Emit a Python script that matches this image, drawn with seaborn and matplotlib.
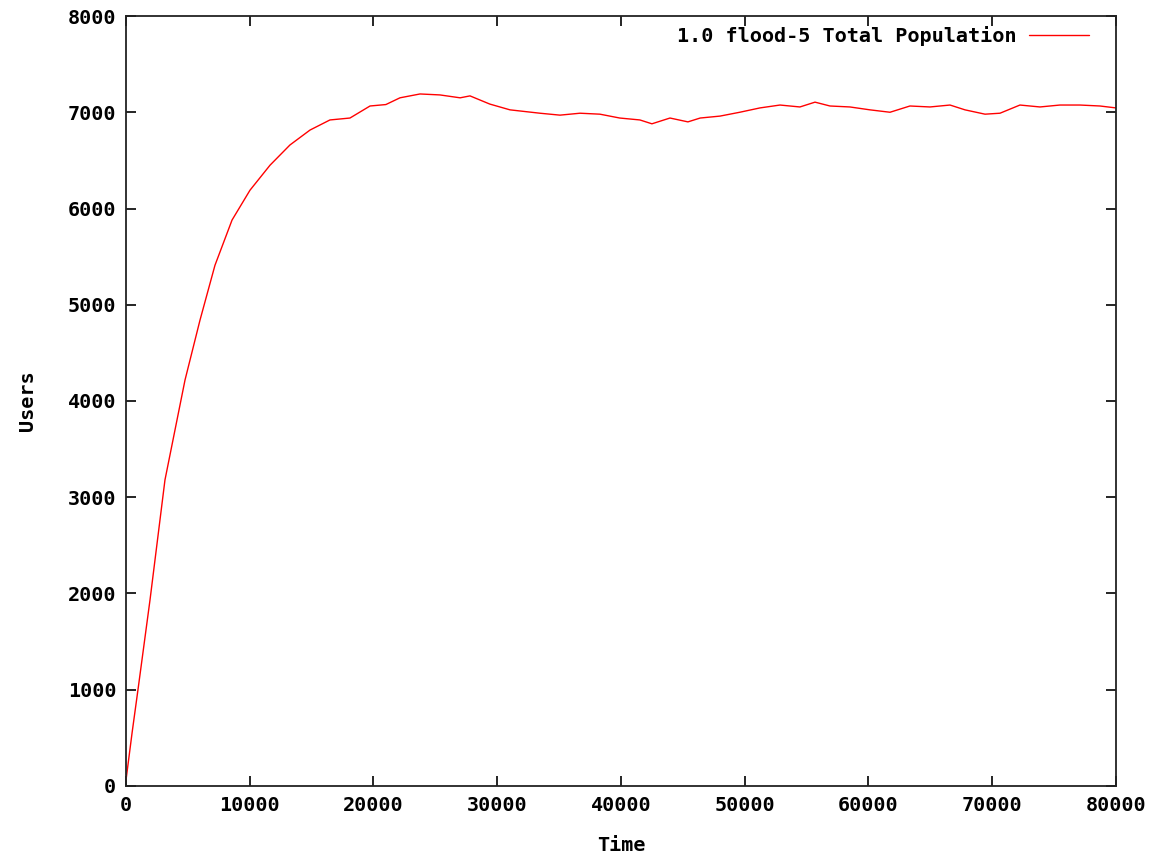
import pandas as pd
import matplotlib
matplotlib.use('Agg')
import matplotlib.pyplot as plt
import seaborn as sns

# valores (tiempo, usuarios)
tiempo = [0, 500, 1000, 1940, 3150, 4770, 5980, 7190, 8570, 10020, 11640,
          13250, 14870, 16480, 18100, 19720, 21000, 22140, 23760, 25370,
          27000, 27800, 29400, 31030, 33450, 35070, 36690, 38300, 39900,
          41530, 42500, 43960, 45410, 46400, 48000, 49600, 51230, 52850,
          54460, 55680, 56890, 58500, 60120, 61740, 63350, 64970, 66590,
          67800, 69420, 70630, 72240, 73860, 75470, 77090, 78710, 80000]
usuarios = [60, 560, 1030, 1932, 3180, 4218, 4840, 5410, 5880, 6190, 6450,
            6660, 6815, 6920, 6940, 7065, 7080, 7150, 7190, 7180,
            7150, 7170, 7085, 7025, 6990, 6970, 6990, 6980, 6940,
            6920, 6880, 6940, 6900, 6940, 6960, 7000, 7045, 7075,
            7055, 7105, 7065, 7055, 7025, 7000, 7065, 7055, 7075,
            7025, 6980, 6990, 7075, 7055, 7075, 7075, 7065, 7045]
serie = '1.0 flood-5 Total Population'

df = pd.DataFrame({'Time': tiempo, 'Users': usuarios, 'serie': serie})

sns.set_style('white')
plt.rcParams['font.family'] = ['DejaVu Sans Mono']
plt.rcParams['font.weight'] = 'bold'
plt.rcParams['text.color'] = 'black'
plt.rcParams['axes.labelcolor'] = 'black'

fig = plt.figure(figsize=(11.58, 8.56), dpi=100)
ax = fig.add_axes([0.1088, 0.0818, 0.8549, 0.8995])

sns.lineplot(data=df, x='Time', y='Users', hue='serie', palette=['#ff0000'],
             linewidth=1.0, ax=ax)

ax.set_xlim(0, 80000)
ax.set_ylim(0, 8000)
ax.set_xticks(range(0, 80001, 10000))
ax.set_yticks(range(0, 8001, 1000))
ax.tick_params(direction='in', length=7, width=1.2, top=True, right=True,
               bottom=True, left=True, labelsize=14.5, pad=7, colors='black')
for lab in ax.get_xticklabels() + ax.get_yticklabels():
    lab.set_fontweight('bold')
for s in ax.spines.values():
    s.set_visible(True)
    s.set_color('#222222')
    s.set_linewidth(1.3)

ax.set_xlabel('Time', fontsize=14.5, fontweight='bold', labelpad=15, color='black')
ax.set_ylabel('Users', fontsize=14.5, fontweight='bold', labelpad=22, color='black')

leg = ax.legend(loc='upper right', frameon=False, markerfirst=False,
                fontsize=14.5, handlelength=3.0, handletextpad=0.6,
                borderaxespad=0.0, bbox_to_anchor=(0.981, 0.998))
for t in leg.get_texts():
    t.set_fontweight('bold')
    t.set_color('black')

plt.savefig('out.png', dpi=100)
